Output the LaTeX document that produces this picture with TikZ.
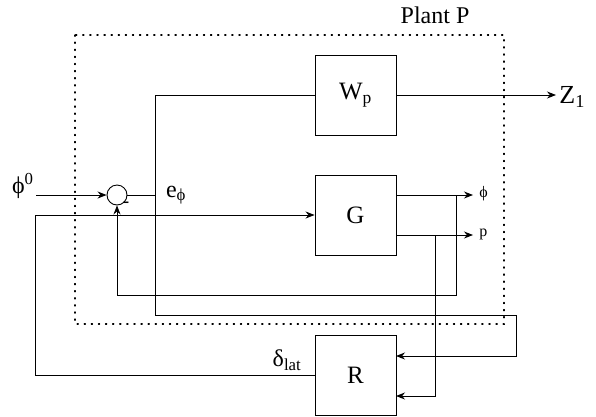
\documentclass[tikz,border=0pt]{standalone}
\usepackage{fontspec}
\setmainfont{Liberation Serif}
\usetikzlibrary{arrows.meta}
\begin{document}
\begin{tikzpicture}[x=1pt,y=-1pt,
  line width=0.9pt,
  blk/.style={draw,minimum width=81pt,minimum height=80pt,inner sep=0pt,font=\fontsize{25}{27}\selectfont},
  sumc/.style={draw,circle,minimum size=20pt,inner sep=0pt},
  arr/.style={-{Stealth[length=9pt,width=7pt]}},
  lbl/.style={inner sep=0pt,font=\fontsize{24}{26}\selectfont},
  slbl/.style={inner sep=0pt,font=\fontsize{16}{18}\selectfont},
  dotbox/.style={line width=1.2pt,dash pattern=on 1.2pt off 5.9pt,line cap=round}]
\useasboundingbox (0,0) rectangle (596,416);
% plant box
\draw[dotbox] (75,35) rectangle (504,324);
\node[lbl] (plant) at (435,15) {Plant P};
% blocks
\node[blk] (Wp) at (355.5,95) {W\textsubscript{p}};
\node[blk] (G) at (355.5,215) {G};
\node[blk] (R) at (355.5,375) {R};
\node[sumc] (sum) at (117,195) {};
% labels
\node[lbl,anchor=east] (phi0) at (34,186) {ϕ\textsuperscript{0}};
\node[lbl] (ephi) at (176,195) {e\textsubscript{ϕ}};
\node[inner sep=0pt,font=\fontsize{20}{22}\selectfont] (minus) at (126,205) {-};
\node[lbl,anchor=west,font=\fontsize{26}{28}\selectfont] (z1) at (559,97) {Z\textsubscript{1}};
\node[slbl,anchor=west] (phiout) at (479,194) {ϕ};
\node[slbl,anchor=west] (pout) at (479,234) {p};
\node[lbl] (dlat) at (287,360) {δ\textsubscript{lat}};
% coordinates
\coordinate (zend) at (556,95);
\coordinate (jE) at (155,195);
\coordinate (jEtop) at (155,95);
\coordinate (jEbot) at (155,315);
\coordinate (rt) at (516,315);
\coordinate (Rin1) at (396,356);
\coordinate (Rin2) at (396,396);
\coordinate (phiend) at (473,195);
\coordinate (pend) at (473,235);
\coordinate (bphi) at (456,195);
\coordinate (bphib) at (456,295);
\coordinate (bp) at (435,235);
\coordinate (bpb) at (435,396);
\coordinate (lft) at (35,215);
% connectors
\draw[arr] (phi0.east |- sum.west) ++(2,0) -- (sum.west);
\draw (sum.east) -- (jE);
\draw[arr] (Wp.east) -- (zend);
\draw[arr] (Wp.west) -- (jEtop) -- (jEbot) -- (rt) |- (Rin1);
\draw[arr] (R.west) -| (lft) -- (G.west);
\draw[arr] (G.east |- phiend) -- (phiend);
\draw[arr] (G.east |- pend) -- (pend);
\draw[arr] (bphi) -- (bphib) -| (sum.south);
\draw[arr] (bp) -- (bpb) -- (Rin2);
\end{tikzpicture}
\end{document}
